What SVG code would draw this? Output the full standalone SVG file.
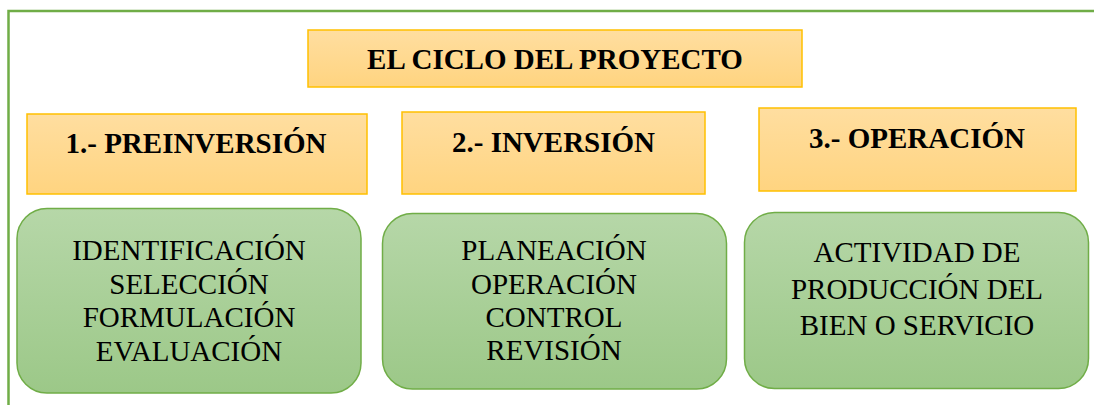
<svg xmlns="http://www.w3.org/2000/svg" width="1094" height="405" viewBox="0 0 1094 405">
<style>
.hdr{stroke:#FFC000;stroke-width:1.5;fill:url(#gOr)}
.grn{stroke:#70AD47;stroke-width:1.5;fill:url(#gGr)}
.ht{font-family:"Liberation Serif","Times New Roman",serif;font-weight:bold;font-size:29px;fill:#000;text-anchor:middle}
.bt{font-family:"Liberation Serif","Times New Roman",serif;font-size:29px;fill:#000;text-anchor:middle}
</style>
<defs>
<linearGradient id="gOr" x1="0" y1="0" x2="0" y2="1">
<stop offset="0" stop-color="#FFDEA0"/>
<stop offset="1" stop-color="#FFD480"/>
</linearGradient>
<linearGradient id="gGr" x1="0" y1="0" x2="0" y2="1">
<stop offset="0" stop-color="#B6D7A8"/>
<stop offset="1" stop-color="#9CC888"/>
</linearGradient>
</defs>
<rect x="0" y="0" width="1094" height="405" fill="#fff"/>
<rect x="8.5" y="11" width="1100" height="420" fill="none" stroke="#70AD47" stroke-width="2.5"/>
<g id="title">
<rect class="hdr" x="308" y="30" width="494" height="57"/>
<text class="ht" x="555" y="69">EL CICLO DEL PROYECTO</text>
</g>
<g id="h1">
<rect class="hdr" x="27" y="114" width="340" height="80"/>
<text class="ht" x="196" y="153">1.- PREINVERSIÓN</text>
</g>
<g id="h2">
<rect class="hdr" x="402" y="112" width="303" height="82"/>
<text class="ht" x="553.5" y="152">2.- INVERSIÓN</text>
</g>
<g id="h3">
<rect class="hdr" x="759" y="108" width="317" height="83"/>
<text class="ht" x="917" y="148">3.- OPERACIÓN</text>
</g>
<g id="b1">
<rect class="grn" x="17" y="208.5" width="344" height="184.5" rx="30"/>
<text class="bt" x="189" y="260">IDENTIFICACIÓN</text>
<text class="bt" x="189" y="293.5">SELECCIÓN</text>
<text class="bt" x="189" y="327">FORMULACIÓN</text>
<text class="bt" x="189" y="360.5">EVALUACIÓN</text>
</g>
<g id="b2">
<rect class="grn" x="382.5" y="213.5" width="344" height="175.5" rx="30"/>
<text class="bt" x="554" y="260">PLANEACIÓN</text>
<text class="bt" x="554" y="293.5">OPERACIÓN</text>
<text class="bt" x="554" y="327">CONTROL</text>
<text class="bt" x="554" y="360">REVISIÓN</text>
</g>
<g id="b3">
<rect class="grn" x="744.5" y="212.5" width="344" height="176" rx="30"/>
<text class="bt" x="917" y="262">ACTIVIDAD DE</text>
<text class="bt" x="917" y="298.5">PRODUCCIÓN DEL</text>
<text class="bt" x="917" y="335">BIEN O SERVICIO</text>
</g>
<g id="connectors"/>
</svg>
